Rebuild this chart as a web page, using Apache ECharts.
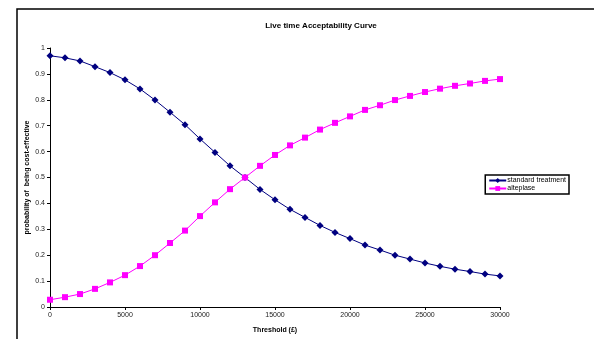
<!DOCTYPE html>
<html>
<head>
<meta charset="utf-8">
<script src="https://cdn.jsdelivr.net/npm/echarts@6/dist/echarts.min.js"></script>
<style>
  html, body { margin: 0; padding: 0; background: #fff; }
  #chart { width: 594px; height: 339px; }
</style>
</head>
<body>
<div id="chart"></div>
<script>
// Willingness-to-pay thresholds (£)
const thresholds = [0, 1000, 2000, 3000, 4000, 5000, 6000, 7000, 8000, 9000, 10000,
  11000, 12000, 13000, 14000, 15000, 16000, 17000, 18000, 19000, 20000,
  21000, 22000, 23000, 24000, 25000, 26000, 27000, 28000, 29000, 30000];

// Probability of being cost-effective
const standardTreatment = [0.970, 0.962, 0.950, 0.928, 0.905, 0.877, 0.842, 0.799, 0.752, 0.704, 0.649,
  0.597, 0.545, 0.500, 0.454, 0.414, 0.377, 0.346, 0.315, 0.288, 0.264,
  0.239, 0.220, 0.200, 0.185, 0.170, 0.157, 0.146, 0.137, 0.127, 0.120];

const alteplase = [0.028, 0.038, 0.050, 0.070, 0.095, 0.123, 0.158, 0.200, 0.247, 0.295, 0.351,
  0.404, 0.455, 0.500, 0.545, 0.587, 0.624, 0.654, 0.685, 0.711, 0.736,
  0.761, 0.779, 0.799, 0.815, 0.830, 0.843, 0.854, 0.863, 0.873, 0.880];

const seriesNames = ['standard treatment', 'alteplase'];

const font = 'Liberation Sans, Arial, sans-serif';
const chart = echarts.init(document.getElementById('chart'), null, { renderer: 'canvas' });

chart.setOption({
  animation: false,
  backgroundColor: '#fff',
  title: {
    text: 'Live time Acceptability Curve',
    left: 316, top: 17, textAlign: 'center',
    textStyle: { fontFamily: font, fontSize: 8, fontWeight: 'bold', color: '#000' }
  },
  grid: { left: 50, right: 94, top: 48, bottom: 28 },
  legend: {
    right: 25, top: 175,
    orient: 'vertical',
    itemGap: 1,
    itemWidth: 17, itemHeight: 6,
    padding: [2, 3, 2, 3],
    borderColor: '#000', borderWidth: 1.5,
    backgroundColor: '#fff',
    textStyle: { fontFamily: font, fontSize: 7, color: '#000', padding: [0, 0, 0, -4] },
    data: seriesNames
  },
  xAxis: {
    type: 'value', min: 0, max: 30000, interval: 5000,
    name: 'Threshold (£)', nameLocation: 'middle', nameGap: 20, nameMoveOverlap: false,
    nameTextStyle: { fontFamily: font, fontSize: 7, fontWeight: 'bold', color: '#000' },
    axisLine: { lineStyle: { color: '#000', width: 1 } },
    axisTick: { show: true, length: 3, lineStyle: { color: '#000' } },
    axisLabel: { fontFamily: font, fontSize: 7, color: '#222', margin: 5,
      formatter: v => String(v) },
    splitLine: { show: false }
  },
  yAxis: {
    type: 'value', min: 0, max: 1, interval: 0.1,
    name: 'probability of  being cost-effective', nameLocation: 'middle', nameGap: 19,
    nameMoveOverlap: false,
    nameRotate: 90,
    nameTextStyle: { fontFamily: font, fontSize: 7, fontWeight: 'bold', color: '#000' },
    axisLine: { show: true, lineStyle: { color: '#000', width: 1 } },
    axisTick: { show: true, length: 3, lineStyle: { color: '#000' } },
    axisLabel: { fontFamily: font, fontSize: 7, color: '#222', margin: 5,
      formatter: v => (Math.round(v * 10) / 10).toString() },
    splitLine: { show: false }
  },
  graphic: [
    {
      type: 'rect', silent: true, z: 100,
      shape: { x: 17, y: 9, width: 700, height: 500 },
      style: { fill: 'none', stroke: '#000', lineWidth: 1.5 }
    }
  ],
  series: [
    {
      name: seriesNames[0], type: 'line',
      data: thresholds.map((t, i) => [t, standardTreatment[i]]),
      symbol: 'diamond', symbolSize: 7,
      lineStyle: { color: '#000080', width: 1 },
      itemStyle: { color: '#000080' }
    },
    {
      name: seriesNames[1], type: 'line',
      data: thresholds.map((t, i) => [t, alteplase[i]]),
      symbol: 'rect', symbolSize: 6,
      lineStyle: { color: '#ff00ff', width: 1 },
      itemStyle: { color: '#ff00ff' }
    }
  ]
});
</script>
</body>
</html>
